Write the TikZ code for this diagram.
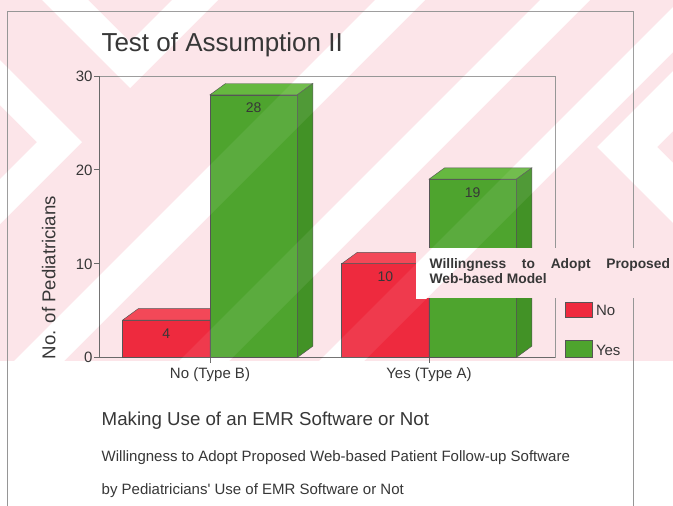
\documentclass[tikz,border=0pt]{standalone}
\usepackage{fontspec}
\setmainfont{Liberation Sans}

\definecolor{wmpink}{RGB}{252,229,233}
\definecolor{inkgray}{RGB}{55,55,55}
\definecolor{framegray}{RGB}{150,150,150}
\definecolor{axisgray}{RGB}{105,105,105}
\definecolor{edgegray}{RGB}{85,85,85}
\definecolor{redfront}{RGB}{238,42,62}
\definecolor{redtop}{RGB}{243,72,88}
\definecolor{redside}{RGB}{200,30,50}
\definecolor{greenfront}{RGB}{78,164,46}
\definecolor{greentop}{RGB}{102,184,64}
\definecolor{greenside}{RGB}{66,146,38}

% 3-D bar: left x, right x, top y, front / top / side colours
\newcommand\drawbar[6]{%
  \filldraw[baredge, fill=#4] (#1,357.5) rectangle (#2,#3);
  \filldraw[baredge, fill=#5] (#1,#3) -- (#2,#3) -- (#2+15.5,#3-11.3) -- (#1+15.5,#3-11.3) -- cycle;
  \filldraw[baredge, fill=#6] (#2,357.5) -- (#2,#3) -- (#2+15.5,#3-11.3) -- (#2+15.5,346.2) -- cycle;
}

\begin{document}
\begin{tikzpicture}[x=1pt,y=-1pt,
  baredge/.style={draw=edgegray, line width=0.45pt, line join=miter},
  framestroke/.style={draw=framegray, line width=0.8pt},
  axisstroke/.style={draw=axisgray, line width=0.8pt},
  txt/.style={text=inkgray, inner sep=0pt, outer sep=0pt},
  ticklabel/.style={txt, font=\fontsize{15}{15}\selectfont, anchor=base east},
  catlabel/.style={txt, font=\fontsize{15}{15}\selectfont, anchor=base},
  vallabel/.style={txt, font=\fontsize{14}{14}\selectfont, anchor=base},
  legtitle/.style={txt, font=\bfseries\fontsize{13.8}{14}\selectfont, anchor=base west},
  legentry/.style={txt, font=\fontsize{15}{15}\selectfont, anchor=base west},
  legkey/.style={draw=edgegray, line width=0.4pt},
  wmshapes/.style={insert path={
    (-5,55) -- (82,142) -- (-5,229) -- (-5,184) -- (37,142) -- (-5,100) -- cycle
    (37,-5) -- (130,88) -- (223,-5) -- (177,-5) -- (130,42) -- (83,-5) -- cycle
    (380,-5) -- (430,-5) -- (25,400) -- (-25,400) -- cycle
    (545,-5) -- (595,-5) -- (190,400) -- (140,400) -- cycle
    (685,-5) -- (730,-5) -- (325,400) -- (280,400) -- cycle
    (680,64) -- (597,147) -- (680,230) -- (680,170) -- (657,147) -- (680,124) -- cycle}}
]
\useasboundingbox (0,0) rectangle (673,506);
\fill[white] (0,0) rectangle (673,506);

% background watermark
\fill[wmpink] (0,0) rectangle (673,361);
\begin{scope}
  \clip (0,0) rectangle (673,361);
  \fill[white, wmshapes];
\end{scope}

% outer frame and plot frame
\draw[framestroke] (7.5,512) -- (7.5,11) -- (633,11) -- (633,512);
\draw[framestroke] (99,76) -- (555,76) -- (555,357.5);
\draw[axisstroke] (99,76) -- (99,357.5) -- (555,357.5);
\foreach \v/\yy in {0/357.5, 10/263.67, 20/169.83, 30/76} {
  \draw[axisstroke] (94,\yy) -- (99,\yy);
  \node[ticklabel] (tick\v) at (92.5,\yy+5.4) {\v};
}
\draw[axisstroke] (210,357.5) -- (210,363);
\draw[axisstroke] (429,357.5) -- (429,363);

% bars
\drawbar{122.7}{210}{320}{redfront}{redtop}{redside}
\drawbar{210}{297.3}{94.8}{greenfront}{greentop}{greenside}
\drawbar{341.7}{429}{263.7}{redfront}{redtop}{redside}
\drawbar{429}{516.3}{179.2}{greenfront}{greentop}{greenside}

% watermark showing faintly through the bars
\begin{scope}
  \clip (0,0) rectangle (673,361);
  \fill[white, fill opacity=0.08, wmshapes];
\end{scope}

% bar values
\node[vallabel] (val4)  at (166.3,338) {4};
\node[vallabel] (val28) at (253.6,112.8) {28};
\node[vallabel] (val10) at (385.3,281.7) {10};
\node[vallabel] (val19) at (472.6,197.2) {19};

% axis titles
\node[txt, font=\fontsize{26}{26}\selectfont, anchor=base west] (title) at (101.5,52) {Test of Assumption II};
\node[txt, font=\fontsize{18.6}{19}\selectfont, rotate=90, anchor=base] (ylabel) at (55.5,277.5) {No. of Pediatricians};
\node[catlabel] (catB) at (210,378) {No (Type B)};
\node[catlabel] (catA) at (429,378) {Yes (Type A)};

% legend
\begin{scope}
  \clip (416,248) rectangle (673,298);
  \fill[wmpink] (416,248) rectangle (673,298);
  \fill[white, wmshapes];
\end{scope}
\node[legtitle] (legtitleA) at (429.7,268) {\makebox[240.3pt][s]{Willingness to Adopt Proposed}};
\node[legtitle] (legtitleB) at (429.7,283.3) {Web-based Model};
\filldraw[legkey, fill=redfront] (565,302) rectangle (592,317);
\filldraw[legkey, fill=greenfront] (565,340) rectangle (592,357);
\node[legentry] (legNo)  at (596,315) {No};
\node[legentry] (legYes) at (596,355) {Yes};

% captions
\node[txt, font=\fontsize{18.7}{19}\selectfont, anchor=base west] (capmain) at (101.7,425) {Making Use of an EMR Software or Not};
\node[txt, font=\fontsize{15}{15}\selectfont, anchor=base west] (capone) at (101.7,461.7) {Willingness to Adopt Proposed Web-based Patient Follow-up Software};
\node[txt, font=\fontsize{15}{15}\selectfont, anchor=base west] (captwo) at (101.7,494) {by Pediatricians\textquotesingle{} Use of EMR Software or Not};
\end{tikzpicture}
\end{document}
